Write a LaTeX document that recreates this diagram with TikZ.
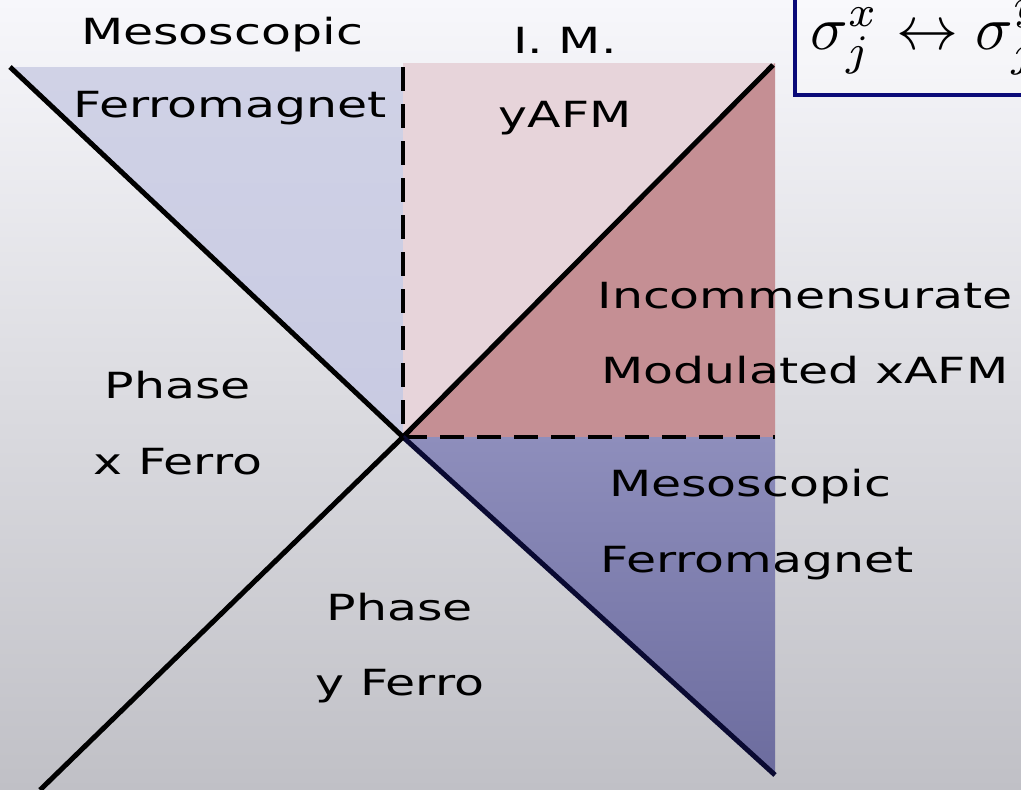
\documentclass[tikz,border=0pt]{standalone}
\usepackage{fontspec}
\setmainfont{DejaVu Sans}
\newfontfamily\comic[FakeStretch=1.36]{DejaVu Sans}
\definecolor{bgtop}{RGB}{247,247,251}
\definecolor{bgbot}{RGB}{192,192,198}
\definecolor{lavtop}{RGB}{208,210,230}
\definecolor{lavbot}{RGB}{200,202,226}
\definecolor{pinklight}{RGB}{231,212,218}
\definecolor{rose}{RGB}{197,143,148}
\definecolor{bluetop}{RGB}{142,142,188}
\definecolor{bluebot}{RGB}{108,108,158}
\definecolor{navyline}{RGB}{10,10,50}
\definecolor{boxblue}{RGB}{10,10,120}
\begin{document}
\begin{tikzpicture}[x=1pt,y=-1pt,
  lbl/.style={font=\comic\fontsize{36}{36}\selectfont, inner sep=0pt},
  bline/.style={line width=5pt, black},
  dline/.style={line width=4pt, black, dash pattern=on 24pt off 13pt}]
\useasboundingbox (0,0) rectangle (1021,790);
\shade[top color=bgtop, bottom color=bgbot] (0,0) rectangle (1021,790);
\coordinate (O) at (403,437);
\coordinate (TL) at (10,67);
\coordinate (TR) at (773,65);
\coordinate (BR) at (775,775);
\coordinate (BL) at (40,790);
% regions
\shade[top color=lavtop, bottom color=lavbot] (12,67) -- (403,67) -- (O) -- cycle;
\fill[pinklight] (403,63) rectangle (775,437);
\fill[rose] (O) -- (TR) -- (775,63) -- (775,437) -- cycle;
\shade[top color=bluetop, bottom color=bluebot] (O) -- (775,437) -- (BR) -- cycle;
% dashed
\draw[dline] (403,67) -- (O);
\draw[dline] (O) -- (775,437);
% lines
\draw[bline] (TL) -- (O);
\draw[bline] (O) -- (TR);
\draw[bline, navyline] (O) -- (BR);
\draw[bline] (O) -- (BL);
% labels
\node[lbl] (a1) at (222,35) {Mesoscopic};
\node[lbl] (a2) at (230,108) {Ferromagnet};
\node[lbl] (b1) at (565,40) {I. M.};
\node[lbl] (b2) at (565,118) {yAFM};
\node[lbl] (c1) at (805,296) {Incommensurate};
\node[lbl] (c2) at (805,370) {Modulated xAFM};
\node[lbl] (d1) at (178,385) {Phase};
\node[lbl] (d2) at (178,462) {x Ferro};
\node[lbl] (e1) at (750,487) {Mesoscopic};
\node[lbl] (e2) at (757,563) {Ferromagnet};
\node[lbl] (f1) at (400,607) {Phase};
\node[lbl] (f2) at (400,686) {y Ferro};
% box
\begin{scope}
\clip (0,0) rectangle (1021,790);
\fill[white, opacity=0.25] (795,-10) rectangle (1040,95);
\draw[line width=4pt, boxblue] (795,-10) rectangle (1040,95);
\node[anchor=base west, inner sep=0pt] (eq) at (810,49) {\scalebox{6.2}{$\sigma_j^x \leftrightarrow \sigma_j^y$}};
\end{scope}
\end{tikzpicture}
\end{document}
